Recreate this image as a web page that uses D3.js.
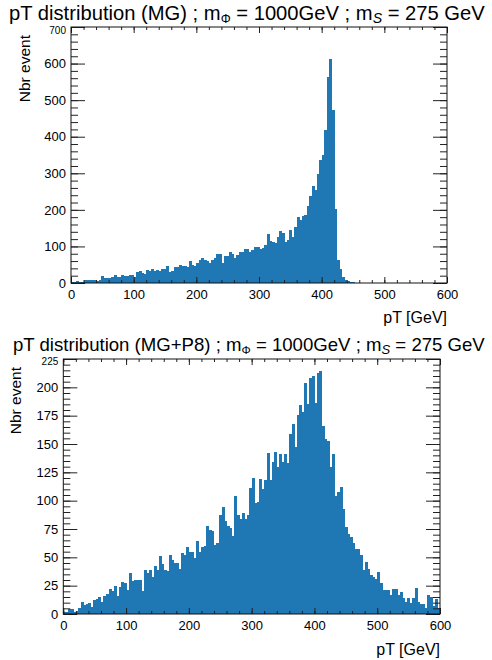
<!DOCTYPE html>
<html><head><meta charset="utf-8">
<script src="https://cdn.jsdelivr.net/npm/d3@7"></script>
<style>
body{margin:0;background:#fff;}
text{font-family:"Liberation Sans",Arial,Helvetica,sans-serif;fill:#000;}
</style>
</head><body>
<script>
// ---- data ----
const binWidth = 4; // GeV, 150 bins from 0 to 600
const topValues = [
 2,2,6,4,4,7,7,9,9,9,
 6,8,18,13,13,15,17,21,16,16,
 21,18,18,21,21,17,29,32,28,25,
 36,34,39,33,36,34,38,37,46,31,
 32,43,43,49,47,46,45,59,50,47,
 56,63,67,63,61,54,63,69,80,80,
 54,73,75,84,78,68,77,86,86,94,
 94,86,90,98,98,93,95,105,134,116,
 112,110,127,142,137,113,118,145,125,153,
 180,173,182,185,210,237,264,255,297,336,
 349,418,562,612,473,203,63,38,16,8,
 5,2,2,1,0,1,0,0,0,0,
 0,0,0,0,0,0,0,0,0,0,
 0,0,0,0,0,0,0,0,0,0,
 0,0,0,0,0,0,0,0,0,0
];
const bottomValues = [
 2,2,4,4,2,3,5,11,8,9,
 10,6,12,13,15,11,16,18,22,20,
 25,16,24,28,27,21,36,29,30,30,
 30,20,39,36,39,33,42,39,51,44,
 39,38,52,48,45,45,40,54,52,59,
 55,55,49,64,55,59,60,78,74,73,
 61,63,87,94,82,78,76,69,104,87,
 84,89,84,87,111,120,98,99,119,110,
 118,142,118,134,143,130,141,134,141,133,
 159,168,147,176,184,178,204,185,208,210,
 186,213,214,166,154,153,130,141,104,108,
 112,93,77,71,68,63,57,57,52,39,
 46,40,34,33,31,37,27,21,21,21,
 17,22,22,17,19,14,11,14,10,14,
 23,11,9,9,5,17,15,7,13,5
];
const xTicks = [0,100,200,300,400,500,600];
const topYTicks = [0,100,200,300,400,500,600,700];
const bottomYTicks = [0,25,50,75,100,125,150,175,200,225];
const topTitle = {main:"pT distribution (MG) ; m", sub1:"\u03A6", mid:" = 1000GeV ; m", sub2:"S", end:" = 275 GeV"};
const bottomTitle = {main:"pT distribution (MG+P8) ; m", sub1:"\u03A6", mid:" = 1000GeV ; m", sub2:"S", end:" = 275 GeV"};
const xLabel = "pT [GeV]";
const yLabel = "Nbr event";

// ---- drawing ----
const W = 492, H = 660;
const svg = d3.select("body").append("svg").attr("width", W).attr("height", H);
const color = "#1f77b4";

function panel(cfg) {
  const g = svg.append("g");
  const x = d3.scaleLinear().domain([0, 600]).range([cfg.left, cfg.right]);
  const y = d3.scaleLinear().domain([0, cfg.ymax]).range([cfg.bottom, cfg.top]);

  // bars
  g.append("g").attr("shape-rendering", "crispEdges")
    .selectAll("rect").data(cfg.values).join("rect")
    .attr("x", (d, i) => x(i * binWidth))
    .attr("width", (d, i) => x((i + 1) * binWidth) - x(i * binWidth) + 0.5)
    .attr("y", d => y(d))
    .attr("height", d => y(0) - y(d))
    .attr("fill", color);

  const xMinor = d3.range(0, 601, 20);
  const yMinor = d3.range(0, cfg.ymax + 0.001, cfg.yMinorStep);

  // bottom axis
  const bx = g.append("g").attr("transform", `translate(0,${cfg.bottom})`);
  bx.call(d3.axisBottom(x).tickValues(xMinor).tickSize(-3).tickFormat(""));
  bx.append("g").call(d3.axisBottom(x).tickValues(xTicks).tickSize(-6).tickPadding(7).tickFormat(d3.format("d")));
  // top axis
  const tx = g.append("g").attr("transform", `translate(0,${cfg.top})`);
  tx.call(d3.axisTop(x).tickValues(xMinor).tickSize(-3).tickFormat(""));
  tx.append("g").call(d3.axisTop(x).tickValues(xTicks).tickSize(-6).tickFormat(""));
  // left axis
  const ly = g.append("g").attr("transform", `translate(${cfg.left},0)`);
  ly.call(d3.axisLeft(y).tickValues(yMinor).tickSize(-7).tickFormat(""));
  ly.append("g").call(d3.axisLeft(y).tickValues(cfg.yTicks).tickSize(-14).tickPadding(cfg.yPad).tickFormat(d3.format("d")));
  // right axis
  const ry = g.append("g").attr("transform", `translate(${cfg.right},0)`);
  ry.call(d3.axisRight(y).tickValues(yMinor).tickSize(-7).tickFormat(""));
  ry.append("g").call(d3.axisRight(y).tickValues(cfg.yTicks).tickSize(-14).tickFormat(""));

  g.selectAll(".domain").remove();
  g.selectAll(".tick line").attr("stroke", "#222").attr("stroke-width", 1);
  g.selectAll(".tick text").attr("font-size", 13).attr("fill", "#111")
    .style("font-family", '"Liberation Sans",Arial,sans-serif');
  // top label smaller as in ROOT output
  ly.selectAll(".tick text").filter(d => d === cfg.ymax).attr("font-size", 10).attr("dy", cfg.topLabelDy);

  // frame
  g.append("rect").attr("x", cfg.left).attr("y", cfg.top)
    .attr("width", cfg.right - cfg.left).attr("height", cfg.bottom - cfg.top)
    .attr("fill", "none").attr("stroke", "#111").attr("stroke-width", 1);

  // title
  const t = g.append("text").attr("x", cfg.titleX).attr("y", cfg.titleY).attr("font-size", cfg.titleSize);
  t.append("tspan").text(cfg.title.main);
  t.append("tspan").text(cfg.title.sub1).attr("font-size", cfg.titleSize * 0.62).attr("dy", 3);
  t.append("tspan").text(cfg.title.mid).attr("dy", -3);
  t.append("tspan").text(cfg.title.sub2).attr("font-size", cfg.titleSize * 0.7).attr("font-style", "italic").attr("dy", 3);
  t.append("tspan").text(cfg.title.end).attr("dy", -3);

  // axis titles
  g.append("text").attr("x", cfg.right).attr("y", cfg.xLabelY).attr("text-anchor", "end")
    .attr("font-size", 16).text(xLabel);
  g.append("text").attr("transform", `translate(${cfg.yLabelX},${cfg.top + 8}) rotate(-90)`)
    .attr("text-anchor", "end").attr("font-size", 15.5).text(yLabel);
}

panel({left: 71, right: 447, top: 27, bottom: 283, ymax: 700, yMinorStep: 20,
  values: topValues, yTicks: topYTicks, yPad: 5, title: topTitle, topLabelDy: "0.62em",
  titleX: 9, titleY: 19.5, titleSize: 20.2, xLabelY: 323, yLabelX: 30});
panel({left: 63.3, right: 440, top: 359, bottom: 614, ymax: 225, yMinorStep: 5,
  values: bottomValues, yTicks: bottomYTicks, yPad: 5, title: bottomTitle, topLabelDy: "0.52em",
  titleX: 13, titleY: 350.5, titleSize: 18.6, xLabelY: 655, yLabelX: 21});
</script>
</body></html>
